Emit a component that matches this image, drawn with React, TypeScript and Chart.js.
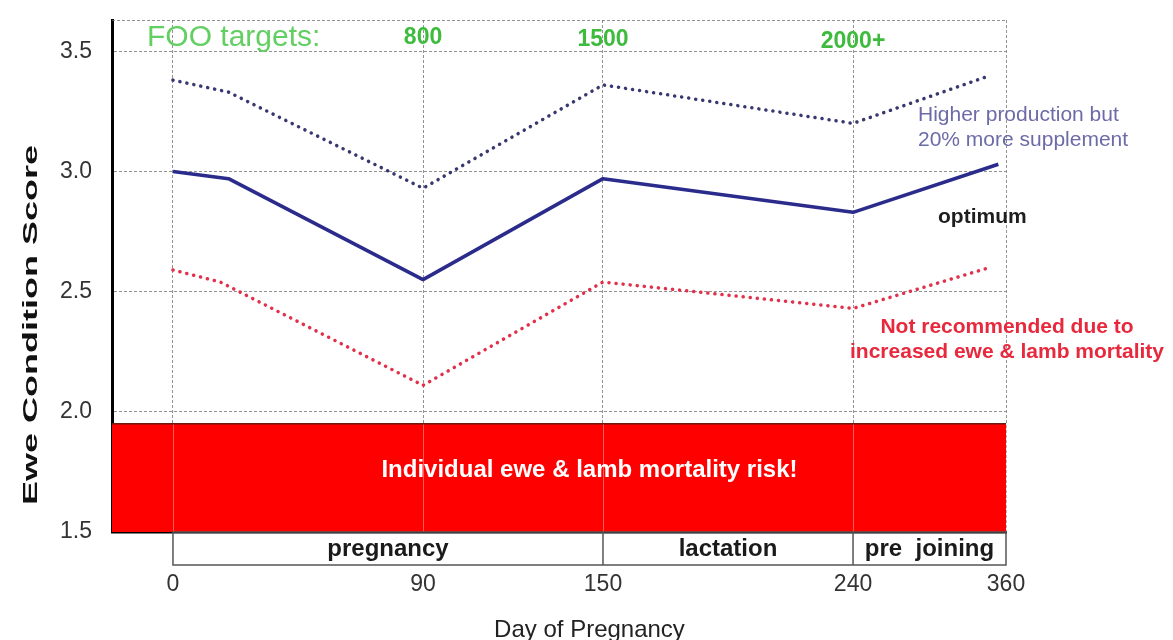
import React, { useEffect, useRef } from 'react';
import { Chart, registerables, LinearScale } from 'chart.js';

// ---------- data ----------
const dayTicks = [0, 90, 150, 240, 360];
const scoreTicks = [1.5, 2.0, 2.5, 3.0, 3.5];

const optimumDays = [0, 20, 90, 150, 240, 354];
const optimumScore = [3.0, 2.97, 2.55, 2.97, 2.83, 3.03];

const highDays = [0, 20, 90, 150, 240, 348];
const highScore = [3.38, 3.33, 2.93, 3.36, 3.2, 3.4];

const lowDays = [0, 17, 90, 150, 240, 347];
const lowScore = [2.59, 2.54, 2.11, 2.54, 2.43, 2.6];

const riskZone = [1.5, 1.95];

const fooDays = [90, 150, 240];
const fooLabels = ['800', '1500', '2000+'];

const phaseNames = ['pregnancy', 'lactation', 'pre  joining'];
const phaseBounds = [0, 150, 240, 360];

// ---------- axis definition (piecewise day axis) ----------
const axisDayAnchors = [-22, 0, 90, 150, 240, 360];
const axisFractions = [0, 0.0682, 0.3479, 0.5492, 0.8289, 1];

class PiecewiseDayScale extends LinearScale {
  static id = 'piecewiseDay';
  static defaults = LinearScale.defaults;
  getPixelForValue(value: any) {
    if (value === null || value === undefined || isNaN(value)) return NaN;
    const d = axisDayAnchors;
    const f = axisFractions;
    let i = 0;
    while (i < d.length - 2 && value > d[i + 1]) i++;
    const t = (value - d[i]) / (d[i + 1] - d[i]);
    return this.getPixelForDecimal(f[i] + t * (f[i + 1] - f[i]));
  }
  getValueForPixel(pixel: number) {
    const dec = this.getDecimalForPixel(pixel);
    const d = axisDayAnchors;
    const f = axisFractions;
    let i = 0;
    while (i < f.length - 2 && dec > f[i + 1]) i++;
    const t = (dec - f[i]) / (f[i + 1] - f[i]);
    return d[i] + t * (d[i + 1] - d[i]);
  }
}

Chart.register(...registerables, PiecewiseDayScale as any);

const FONT = "'Liberation Sans', Arial, Helvetica, sans-serif";

const decorPlugin = {
  id: 'decor',
  beforeDatasetsDraw(chart: any) {
    const { ctx, chartArea: a, scales } = chart;
    const x = scales.x;
    const y = scales.y;
    const top = y.getPixelForValue(riskZone[1]);
    const bottom = y.getPixelForValue(riskZone[0]);
    ctx.save();
    ctx.fillStyle = '#ff0000';
    ctx.fillRect(a.left, top, a.right - a.left, bottom - top);
    // faint grid through the box
    ctx.strokeStyle = 'rgba(255,255,255,0.35)';
    ctx.lineWidth = 1;
    dayTicks.forEach((d) => {
      const px = Math.round(x.getPixelForValue(d)) + 0.5;
      ctx.beginPath();
      ctx.moveTo(px, top);
      ctx.lineTo(px, bottom);
      ctx.stroke();
    });
    ctx.strokeStyle = '#6b1a10';
    ctx.lineWidth = 1.5;
    ctx.beginPath();
    ctx.moveTo(a.left, top);
    ctx.lineTo(a.right, top);
    ctx.stroke();
    // top dashed border
    ctx.strokeStyle = 'rgba(110,110,110,0.75)';
    ctx.lineWidth = 1;
    ctx.setLineDash([3, 2]);
    ctx.beginPath();
    ctx.moveTo(a.left, a.top + 0.5);
    ctx.lineTo(a.right, a.top + 0.5);
    ctx.stroke();
    ctx.restore();
  },
  afterDraw(chart: any) {
    const { ctx, chartArea: a, scales } = chart;
    const x = scales.x;
    const y = scales.y;
    ctx.save();

    // risk text
    const rTop = y.getPixelForValue(riskZone[1]);
    const x0 = x.getPixelForValue(phaseBounds[0]);
    const x1 = x.getPixelForValue(phaseBounds[phaseBounds.length - 1]);
    ctx.fillStyle = '#ffffff';
    ctx.font = `bold 24px ${FONT}`;
    ctx.textAlign = 'center';
    ctx.textBaseline = 'middle';
    ctx.fillText('Individual ewe & lamb mortality risk!', (x0 + x1) / 2, rTop + 47);

    // phase bar
    const pTop = a.bottom;
    const pBot = a.bottom + 33;
    ctx.strokeStyle = '#555';
    ctx.lineWidth = 1.5;
    ctx.strokeRect(x0, pTop, x1 - x0, pBot - pTop);
    for (let i = 1; i < phaseBounds.length - 1; i++) {
      const px = x.getPixelForValue(phaseBounds[i]);
      ctx.beginPath();
      ctx.moveTo(px, pTop);
      ctx.lineTo(px, pBot);
      ctx.stroke();
    }
    ctx.fillStyle = '#1a1a1a';
    ctx.font = `bold 24px ${FONT}`;
    ctx.textBaseline = 'alphabetic';
    phaseNames.forEach((n, i) => {
      const a0 = x.getPixelForValue(phaseBounds[i]);
      const a1 = x.getPixelForValue(phaseBounds[i + 1]);
      ctx.fillText(n, (a0 + a1) / 2, pBot - 9);
    });

    // x title
    ctx.fillStyle = '#222';
    ctx.font = `24px ${FONT}`;
    ctx.fillText('Day of Pregnancy', (x0 + x1) / 2, 637);

    // y title (stretched)
    ctx.save();
    ctx.translate(37, 325);
    ctx.rotate(-Math.PI / 2);
    ctx.font = `bold 21px ${FONT}`;
    const yt = 'Ewe Condition Score';
    const w = ctx.measureText(yt).width;
    ctx.scale(360 / w, 1);
    ctx.fillStyle = '#111';
    ctx.textAlign = 'center';
    ctx.textBaseline = 'alphabetic';
    ctx.fillText(yt, 0, 0);
    ctx.restore();

    // FOO targets
    ctx.textBaseline = 'middle';
    ctx.textAlign = 'left';
    ctx.fillStyle = '#62cf62';
    ctx.font = `30px ${FONT}`;
    ctx.fillText('FOO targets:', 147, 38);
    ctx.textAlign = 'center';
    ctx.fillStyle = '#3dbb3d';
    ctx.font = `bold 23px ${FONT}`;
    fooDays.forEach((d, i) => {
      ctx.fillText(fooLabels[i], x.getPixelForValue(d), 38 + i * 2);
    });

    // annotations
    ctx.textAlign = 'left';
    ctx.fillStyle = '#6b6ba8';
    ctx.font = `21px ${FONT}`;
    ctx.fillText('Higher production but', 918, 115);
    ctx.fillText('20% more supplement', 918, 140);

    ctx.fillStyle = '#1e1e1e';
    ctx.font = `bold 21px ${FONT}`;
    ctx.fillText('optimum', 938, 217);

    ctx.textAlign = 'center';
    ctx.fillStyle = '#e8283c';
    ctx.font = `bold 21px ${FONT}`;
    ctx.fillText('Not recommended due to', 1007, 327);
    ctx.fillText('increased ewe & lamb mortality', 1007, 352);

    ctx.restore();
  },
};

const toPoints = (days: number[], vals: number[]) => days.map((d, i) => ({ x: d, y: vals[i] }));

export default function App() {
  const ref = useRef<HTMLCanvasElement>(null);
  useEffect(() => {
    const gridColor = 'rgba(110,110,110,0.75)';
    const chart = new Chart(ref.current as HTMLCanvasElement, {
      type: 'line',
      data: {
        datasets: [
          {
            label: 'Higher production',
            data: toPoints(highDays, highScore),
            borderColor: '#383870',
            borderWidth: 3.5,
            borderDash: [0.1, 7],
            borderCapStyle: 'round',
            pointRadius: 0,
            tension: 0,
          },
          {
            label: 'Optimum',
            data: toPoints(optimumDays, optimumScore),
            borderColor: '#2b2b8c',
            borderWidth: 3.5,
            borderJoinStyle: 'round',
            pointRadius: 0,
            tension: 0,
          },
          {
            label: 'Not recommended',
            data: toPoints(lowDays, lowScore),
            borderColor: '#e2304a',
            borderWidth: 3.5,
            borderDash: [0.1, 7],
            borderCapStyle: 'round',
            pointRadius: 0,
            tension: 0,
          },
        ] as any,
      },
      options: {
        responsive: false,
        animation: false,
        devicePixelRatio: 1,
        layout: { padding: { top: 20, right: 167, left: 0, bottom: 0 } },
        plugins: { legend: { display: false }, tooltip: { enabled: false } },
        scales: {
          x: {
            type: 'piecewiseDay' as any,
            min: -22,
            max: 360,
            afterFit: (s: any) => {
              s.height = 108;
              s.paddingLeft = 0;
              s.paddingRight = 0;
            },
            afterBuildTicks: (s: any) => {
              s.ticks = dayTicks.map((v) => ({ value: v }));
            },
            grid: { color: gridColor, lineWidth: 1, drawTicks: false },
            border: { display: true, color: '#000', width: 2.5, dash: [3, 2] },
            ticks: {
              autoSkip: false,
              maxRotation: 0,
              padding: 39,
              color: '#333',
              font: { family: FONT, size: 23 },
              callback: (v: any) => String(v),
            },
          } as any,
          y: {
            type: 'linear',
            min: 1.5,
            max: 3.63,
            afterFit: (s: any) => {
              s.width = 112;
              s.paddingTop = 0;
              s.paddingBottom = 0;
            },
            afterBuildTicks: (s: any) => {
              s.ticks = scoreTicks.map((v) => ({ value: v }));
            },
            grid: { color: gridColor, lineWidth: 1, drawTicks: false },
            border: { display: true, color: '#000', width: 3, dash: [3, 2] },
            ticks: {
              padding: 20,
              color: '#333',
              font: { family: FONT, size: 23 },
              callback: (v: any) => Number(v).toFixed(1),
            },
          } as any,
        },
      },
      plugins: [decorPlugin],
    });
    return () => chart.destroy();
  }, []);
  return (
    <div style={{ position: 'fixed', left: 0, top: 0, width: 1173, height: 640, background: '#fff' }}>
      <canvas ref={ref} width={1173} height={640} style={{ display: 'block', width: 1173, height: 640 }} />
    </div>
  );
}
